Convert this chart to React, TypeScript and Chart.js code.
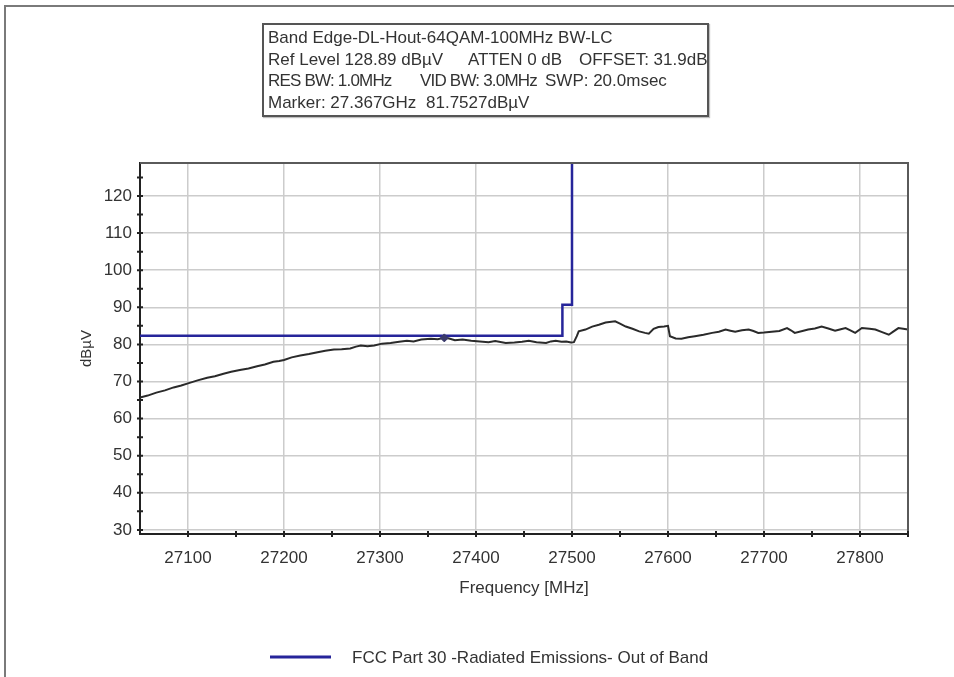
import React, { useEffect, useRef } from "react";
import { Chart, registerables } from "chart.js";

Chart.register(...registerables);

// ---- Data ----
const chartTitle = "Band Edge-DL-Hout-64QAM-100MHz BW-LC";
const limitLabel = "FCC Part 30 -Radiated Emissions- Out of Band";
const xTitle = "Frequency [MHz]";
const yTitle = "dBµV";

const xMin = 27050;
const xMax = 27850;
const yMin = 28.89;
const yMax = 128.89;

const xTickValues = [27100, 27200, 27300, 27400, 27500, 27600, 27700, 27800];
const yTickValues = [30, 40, 50, 60, 70, 80, 90, 100, 110, 120];
const xMinorTicks = [27100, 27150, 27200, 27250, 27300, 27350, 27400, 27450, 27500, 27550, 27600, 27650, 27700, 27750, 27800, 27850];
const yMinorTicks = [30, 35, 40, 45, 50, 55, 60, 65, 70, 75, 80, 85, 90, 95, 100, 105, 110, 115, 120, 125];

const limitFreq = [27050, 27490, 27490, 27500, 27500];
const limitLevel = [82.3, 82.3, 90.7, 90.7, 128.89];

const markerFreq = [27367];
const markerLevel = [81.75];

const traceFreq = [
  27050, 27058, 27067, 27076, 27085, 27093, 27100, 27110, 27120, 27128,
  27137, 27145, 27154, 27163, 27172, 27180, 27189, 27195, 27200, 27208,
  27217, 27226, 27235, 27243, 27252, 27260, 27269, 27275, 27280, 27287,
  27294, 27302, 27311, 27320, 27328, 27335, 27343, 27353, 27360, 27367,
  27372, 27378, 27386, 27395, 27404, 27413, 27420, 27431, 27440, 27448,
  27455, 27463, 27473, 27478, 27483, 27489, 27494, 27499, 27502, 27505,
  27507, 27514, 27521, 27528, 27535, 27545, 27550, 27556, 27563, 27570,
  27576, 27580, 27585, 27590, 27596, 27600, 27602, 27608, 27614, 27621,
  27628, 27637, 27646, 27653, 27660, 27665, 27670, 27677, 27684, 27689,
  27694, 27700, 27708, 27716, 27724, 27728, 27732, 27740, 27746, 27753,
  27760, 27767, 27774, 27780, 27785, 27790, 27795, 27802, 27810, 27816,
  27823, 27830, 27835, 27840, 27845, 27850,
];
const traceLevel = [
  65.7, 66.2, 67.0, 67.6, 68.4, 68.9, 69.5, 70.3, 71.0, 71.4,
  72.1, 72.6, 73.1, 73.5, 74.1, 74.6, 75.3, 75.5, 75.8, 76.5,
  77.0, 77.4, 77.9, 78.3, 78.6, 78.7, 78.9, 79.4, 79.7, 79.5,
  79.7, 80.2, 80.4, 80.7, 81.0, 80.8, 81.3, 81.5, 81.4, 81.75,
  81.6, 81.1, 81.3, 81.0, 80.8, 80.6, 80.9, 80.4, 80.5, 80.7,
  81.0, 80.6, 80.4, 80.8, 81.0, 80.7, 80.8, 80.5, 80.6, 82.2,
  83.5, 84.0, 84.8, 85.3, 85.9, 86.2, 85.6, 84.8, 84.2, 83.5,
  83.1, 82.9, 84.2, 84.7, 84.8, 85.0, 82.2, 81.6, 81.5, 81.9,
  82.2, 82.6, 83.1, 83.4, 84.0, 83.7, 83.4, 83.8, 84.0, 83.6,
  83.1, 83.2, 83.4, 83.6, 84.4, 83.8, 83.1, 83.6, 84.0, 84.3,
  84.8, 84.3, 83.7, 84.1, 84.4, 83.8, 83.1, 84.4, 84.2, 84.0,
  83.3, 82.6, 83.5, 84.4, 84.2, 84.0,
];

const headerLines = [
  [{ text: chartTitle, x: 268, tight: false }],
  [
    { text: "Ref Level 128.89 dBµV", x: 268, tight: false },
    { text: "ATTEN 0 dB", x: 468, tight: false },
    { text: "OFFSET: 31.9dB", x: 579, tight: false },
  ],
  [
    { text: "RES BW: 1.0MHz", x: 268, tight: true },
    { text: "VID BW: 3.0MHz", x: 420, tight: true },
    { text: "SWP: 20.0msec", x: 545, tight: false },
  ],
  [
    { text: "Marker: 27.367GHz", x: 268, tight: false },
    { text: "81.7527dBµV", x: 426, tight: false },
  ],
];
const headerCenters = [38, 59.5, 81, 102.5];

const FONT = "'Liberation Sans', Arial, sans-serif";
const LIMIT_COLOR = "#26259a";
const TRACE_COLOR = "#2a2a2a";
const TEXT_COLOR = "#333333";

const decorPlugin = {
  id: "decor",
  beforeDraw(chart: any) {
    const { ctx, width, height } = chart;
    ctx.save();
    ctx.fillStyle = "#ffffff";
    ctx.fillRect(0, 0, width, height);
    ctx.strokeStyle = "#7a7a7a";
    ctx.lineWidth = 2;
    ctx.beginPath();
    ctx.moveTo(5, height);
    ctx.lineTo(5, 6);
    ctx.lineTo(width, 6);
    ctx.stroke();
    ctx.restore();
  },
  afterDraw(chart: any) {
    const { ctx, chartArea } = chart;
    const { left, right, top, bottom } = chartArea;
    const xs = chart.scales.x;
    const ys = chart.scales.y;
    ctx.save();
    ctx.strokeStyle = "#5a5a5a";
    ctx.lineWidth = 2;
    ctx.beginPath();
    ctx.moveTo(left, top);
    ctx.lineTo(right, top);
    ctx.lineTo(right, bottom);
    ctx.stroke();

    ctx.strokeStyle = "#222222";
    ctx.lineWidth = 2;
    ctx.beginPath();
    xMinorTicks.forEach((v) => {
      const px = xs.getPixelForValue(v);
      ctx.moveTo(px, bottom - 3);
      ctx.lineTo(px, bottom + 3);
    });
    yMinorTicks.forEach((v) => {
      const py = ys.getPixelForValue(v);
      ctx.moveTo(left - 3, py);
      ctx.lineTo(left + 3, py);
    });
    ctx.stroke();

    // legend
    const ds = chart.data.datasets.find((d: any) => d.label === limitLabel);
    ctx.strokeStyle = ds.borderColor;
    ctx.lineWidth = 3;
    ctx.beginPath();
    ctx.moveTo(270, 657);
    ctx.lineTo(331, 657);
    ctx.stroke();
    ctx.fillStyle = TEXT_COLOR;
    ctx.font = `17px ${FONT}`;
    ctx.textBaseline = "middle";
    ctx.textAlign = "left";
    ctx.fillText(ds.label, 352, 658);
    ctx.restore();
  },
};

export default function App() {
  const canvasRef = useRef<HTMLCanvasElement | null>(null);

  useEffect(() => {
    if (!canvasRef.current) return;
    Chart.defaults.font.family = FONT;
    const chart = new Chart(canvasRef.current, {
      type: "line",
      data: {
        datasets: [
          {
            label: "Marker",
            data: markerFreq.map((f, i) => ({ x: f, y: markerLevel[i] })),
            showLine: false,
            pointStyle: "rectRot",
            pointRadius: 4,
            pointBackgroundColor: "#3a3a6a",
            pointBorderColor: "#3a3a6a",
            borderColor: "#3a3a6a",
          },
          {
            label: limitLabel,
            data: limitFreq.map((f, i) => ({ x: f, y: limitLevel[i] })),
            borderColor: LIMIT_COLOR,
            backgroundColor: LIMIT_COLOR,
            borderWidth: 2.5,
            pointRadius: 0,
            tension: 0,
          },
          {
            label: "Trace",
            data: traceFreq.map((f, i) => ({ x: f, y: traceLevel[i] })),
            borderColor: TRACE_COLOR,
            backgroundColor: TRACE_COLOR,
            borderWidth: 2,
            pointRadius: 0,
            tension: 0,
          },
        ],
      },
      options: {
        animation: false,
        responsive: false,
        devicePixelRatio: 1,
        layout: { padding: { left: 0, top: 163, right: 46, bottom: 0 } },
        plugins: {
          legend: { display: false },
          tooltip: { enabled: false },
          title: { display: false },
        },
        scales: {
          x: {
            type: "linear",
            min: xMin,
            max: xMax,
            afterBuildTicks: (scale: any) => {
              scale.ticks = xTickValues.map((v) => ({ value: v }));
            },
            afterFit: (scale: any) => {
              scale.height = 677 - 534;
            },
            ticks: {
              color: TEXT_COLOR,
              font: { size: 17 },
              padding: 14,
              maxRotation: 0,
              autoSkip: false,
              callback: (v: any) => String(v),
            },
            grid: { color: "#cccccc", lineWidth: 1.5, drawTicks: false },
            border: { color: "#222222", width: 2 },
            title: {
              display: true,
              text: xTitle,
              color: TEXT_COLOR,
              font: { size: 17 },
              padding: { top: 0, bottom: 78 },
            },
          },
          y: {
            type: "linear",
            min: yMin,
            max: yMax,
            afterBuildTicks: (scale: any) => {
              scale.ticks = yTickValues.map((v) => ({ value: v }));
            },
            afterFit: (scale: any) => {
              scale.width = 140;
            },
            ticks: {
              color: TEXT_COLOR,
              font: { size: 17 },
              padding: 8,
              autoSkip: false,
              callback: (v: any) => String(v),
            },
            grid: { color: "#cccccc", lineWidth: 1.5, drawTicks: false },
            border: { color: "#222222", width: 2 },
            title: {
              display: true,
              text: yTitle,
              color: TEXT_COLOR,
              font: { size: 15 },
              padding: { top: 78, bottom: 0 },
            },
          },
        },
      },
      plugins: [decorPlugin],
    } as any);
    return () => chart.destroy();
  }, []);

  return (
    <div
      style={{
        position: "fixed",
        left: 0,
        top: 0,
        width: 954,
        height: 677,
        background: "#fff",
        overflow: "hidden",
      }}
    >
      <canvas ref={canvasRef} width={954} height={677} style={{ display: "block" }} />
      <div
        style={{
          position: "absolute",
          left: 262,
          top: 23,
          width: 443,
          height: 90,
          border: "2px solid #555",
          background: "#fff",
          boxShadow: "1px 1px 1px rgba(0,0,0,0.25)",
          fontFamily: FONT,
          fontSize: 17,
          color: TEXT_COLOR,
        }}
      >
        {headerLines.map((line, li) =>
          line.map((seg, si) => (
            <span
              key={`${li}-${si}`}
              style={{
                position: "absolute",
                left: seg.x - 264,
                top: headerCenters[li] - 10 - 25,
                lineHeight: "20px",
                whiteSpace: "nowrap",
                letterSpacing: seg.tight ? "-0.8px" : "normal",
              }}
            >
              {seg.text}
            </span>
          ))
        )}
      </div>
    </div>
  );
}
